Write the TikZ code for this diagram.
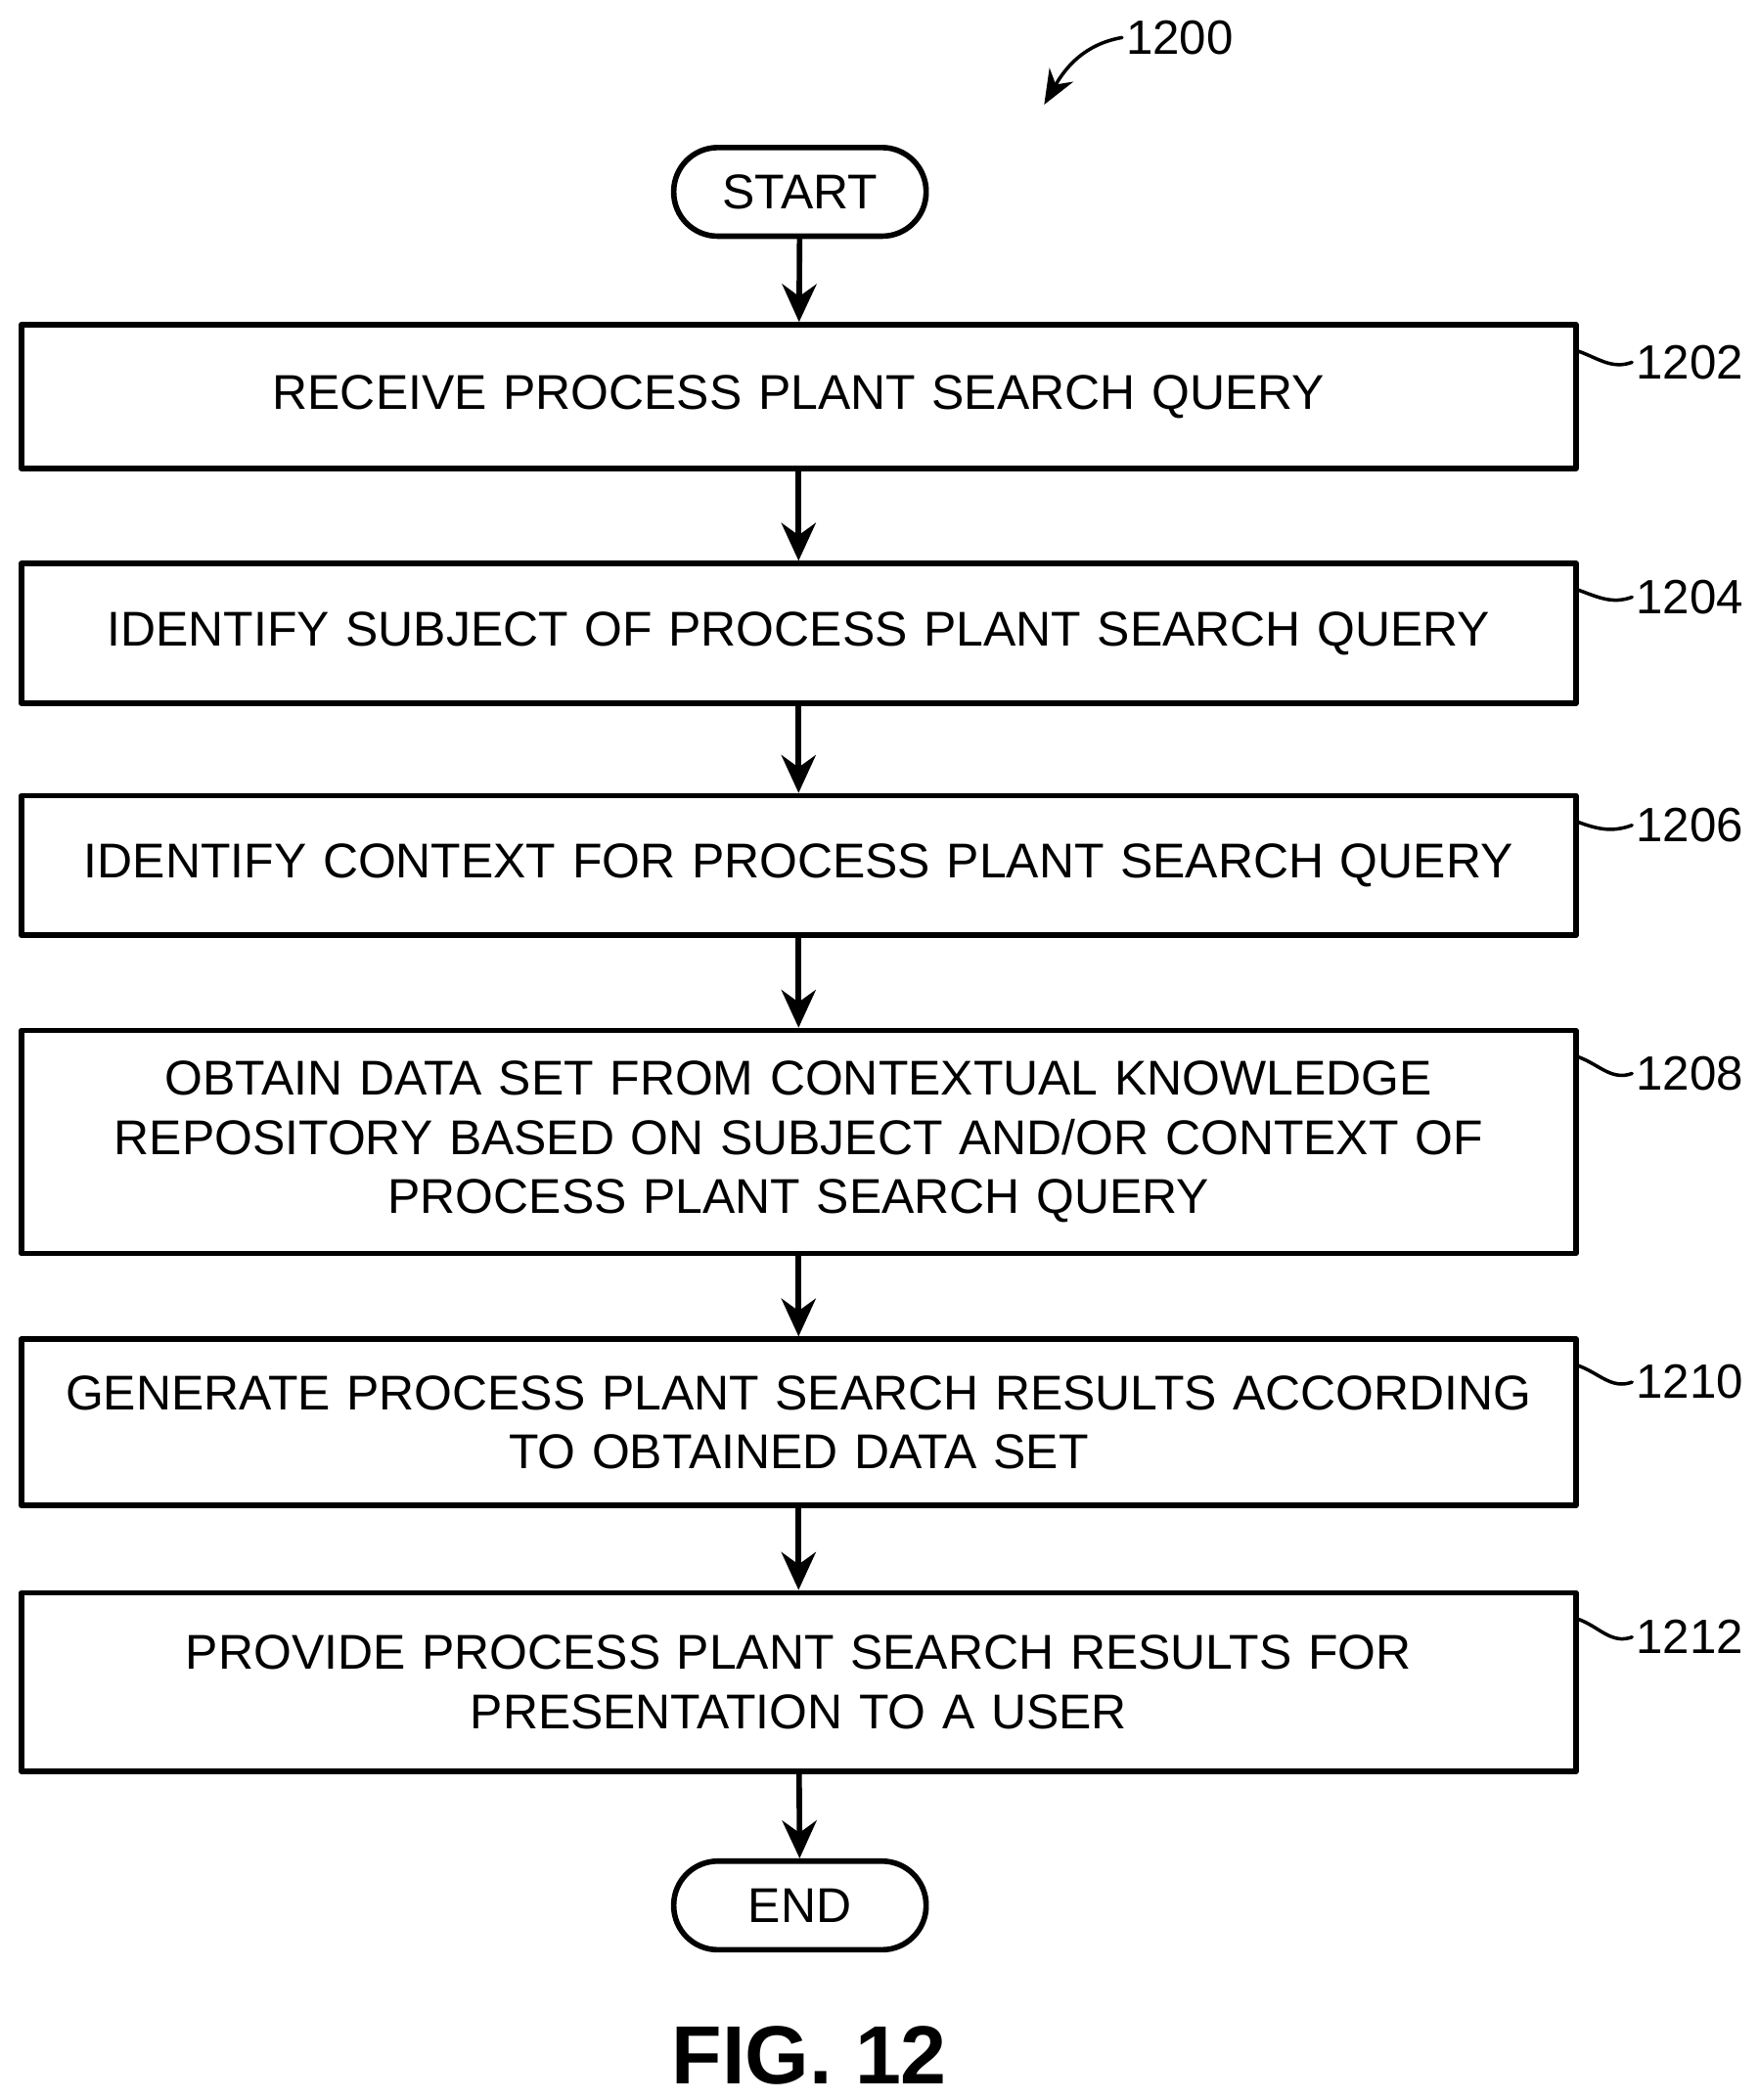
\documentclass[tikz,border=0pt]{standalone}
\usepackage{fontspec}
\setmainfont{Liberation Sans}
\usetikzlibrary{arrows.meta, positioning}

\tikzset{
  stepbox/.style={draw, line width=1.6pt, minimum width=15.89cm, text width=15.6cm, align=center,
    font=\fontsize{14.2}{17.2}\selectfont, inner sep=0pt},
  term/.style={draw, line width=1.6pt, rounded corners=0.45cm, minimum width=2.58cm,
    minimum height=0.906cm, font=\fontsize{14.2}{17}\selectfont},
  flow/.style={-{Stealth[length=11pt, width=10pt]}, line width=1.6pt},
  leader/.style={line width=1pt},
  ref/.style={font=\fontsize{14}{17}\selectfont, anchor=west, inner sep=1pt}
}

\begin{document}
\begin{tikzpicture}[x=0.01372cm, y=-0.01372cm, line cap=round, line join=round]
  \useasboundingbox (0,0) rectangle (1310,1565);

  % Figure number
  \node[ref] (n1200) at (836,28) {1200};
  \coordinate (a1200) at (778,78);
  \draw[-{Stealth[length=10pt, width=8pt]}, line width=1pt] (n1200.west) to[out=190, in=60] (a1200);

  % Terminals and steps
  \node[term] (start) at (596,143) {START};
  \node[stepbox, minimum height=1.468cm] (receive) at (595,295.5) {RECEIVE PROCESS PLANT SEARCH QUERY};
  \node[stepbox, minimum height=1.427cm] (subject) at (595,472) {IDENTIFY SUBJECT OF PROCESS PLANT SEARCH QUERY};
  \node[stepbox, minimum height=1.427cm] (context) at (595,645) {IDENTIFY CONTEXT FOR PROCESS PLANT SEARCH QUERY};
  \node[stepbox, minimum height=2.278cm] (obtain) at (595,851) {OBTAIN DATA SET FROM CONTEXTUAL KNOWLEDGE\\REPOSITORY BASED ON SUBJECT AND/OR CONTEXT OF\\PROCESS PLANT SEARCH QUERY};
  \node[stepbox, minimum height=1.701cm] (generate) at (595,1060) {GENERATE PROCESS PLANT SEARCH RESULTS ACCORDING\\TO OBTAINED DATA SET};
  \node[stepbox, minimum height=1.825cm] (provide) at (595,1253.5) {PROVIDE PROCESS PLANT SEARCH RESULTS FOR\\PRESENTATION TO A USER};
  \node[term] (end) at (596,1420) {END};

  % Flow
  \draw[flow] (start) -- (receive);
  \draw[flow] (receive) -- (subject);
  \draw[flow] (subject) -- (context);
  \draw[flow] (context) -- (obtain);
  \draw[flow] (obtain) -- (generate);
  \draw[flow] (generate) -- (provide);
  \draw[flow] (provide) -- (end);

  % Reference numerals
  \node[ref] (l1202) at (1216,270) {1202};
  \node[ref] (l1204) at (1216,445) {1204};
  \node[ref] (l1206) at (1216,615) {1206};
  \node[ref] (l1208) at (1216,800) {1208};
  \node[ref] (l1210) at (1216,1030) {1210};
  \node[ref] (l1212) at (1216,1220) {1212};
  \draw[leader] ([yshift=-0.3cm]receive.north east) to[out=-20, in=200] (l1202.west);
  \draw[leader] ([yshift=-0.3cm]subject.north east) to[out=-20, in=200] (l1204.west);
  \draw[leader] ([yshift=-0.3cm]context.north east) to[out=-20, in=200] (l1206.west);
  \draw[leader] ([yshift=-0.3cm]obtain.north east) to[out=-20, in=200] (l1208.west);
  \draw[leader] ([yshift=-0.3cm]generate.north east) to[out=-20, in=200] (l1210.west);
  \draw[leader] ([yshift=-0.3cm]provide.north east) to[out=-20, in=200] (l1212.west);

  % Caption
  \node[font=\bfseries\fontsize{24}{28}\selectfont] (fig) at (603,1532) {FIG. 12};
\end{tikzpicture}
\end{document}
